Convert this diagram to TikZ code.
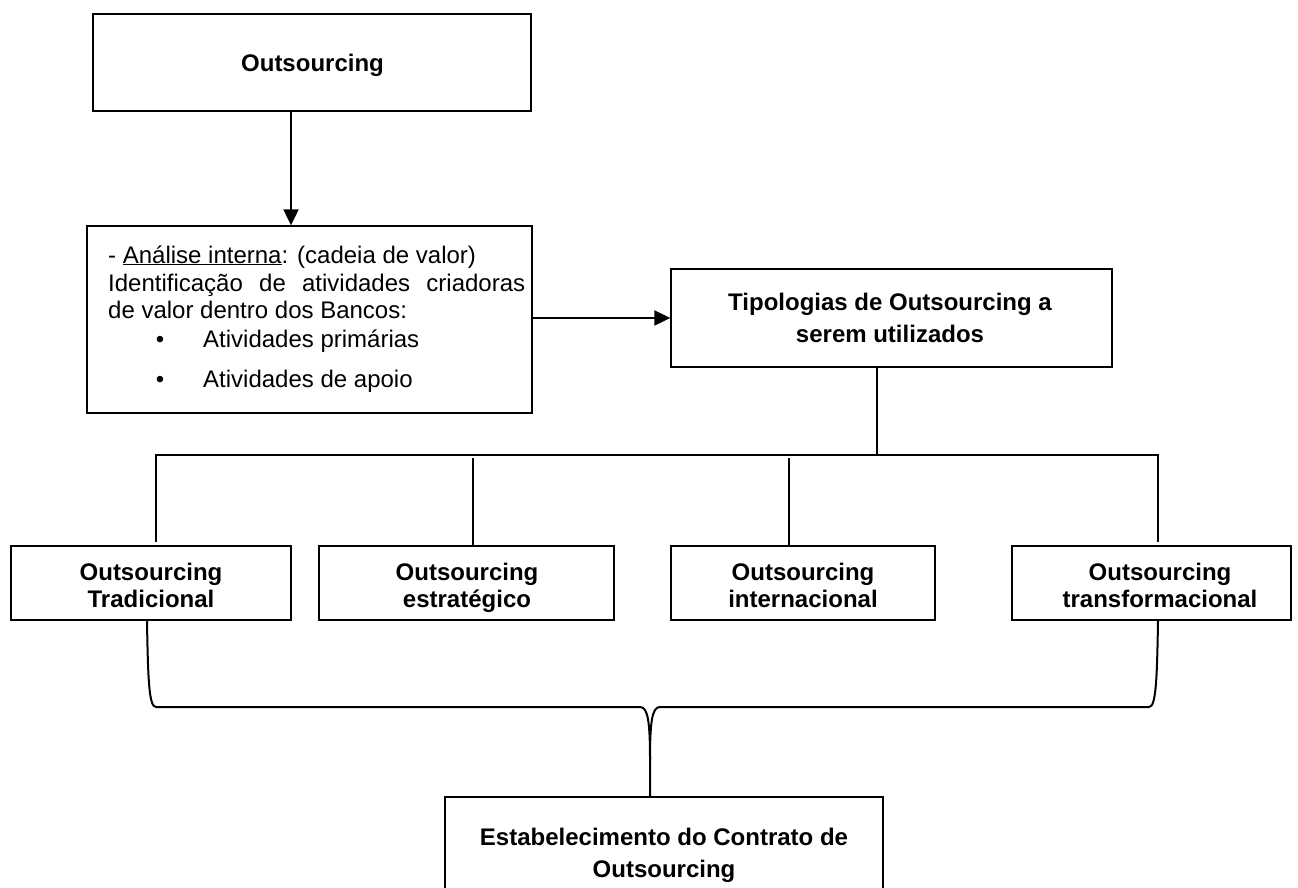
\documentclass[tikz,border=0pt]{standalone}
\usepackage{fontspec}
\setmainfont{Liberation Sans}
\usetikzlibrary{arrows.meta}
\begin{document}
\begin{tikzpicture}[x=1pt,y=-1pt,
  box/.style={draw=black,line width=1.3pt,inner sep=0pt,fill=white},
  txt/.style={inner sep=0pt,anchor=base west,font=\fontsize{24}{27.5}\selectfont},
  btxt/.style={inner sep=0pt,anchor=base,align=center,font=\bfseries\fontsize{24}{#1}\selectfont},
  btxt/.default=30,
  conn/.style={line width=2pt},
  arr/.style={line width=2pt,-{Triangle[length=16pt,width=15pt]}}]
\useasboundingbox (0,0) rectangle (1298,888);
\clip (0,0) rectangle (1298,888);
\fill[white] (0,0) rectangle (1298,888);
% boxes
\node[box,minimum width=438pt,minimum height=97pt] (top) at (312,62.5) {};
\node[box,minimum width=445pt,minimum height=187pt] (ana) at (309.5,319.5) {};
\node[box,minimum width=441pt,minimum height=98pt] (tipo) at (891.5,318) {};
\node[box,minimum width=280pt,minimum height=74pt] (b1) at (151,583) {};
\node[box,minimum width=295pt,minimum height=74pt] (b2) at (466.5,583) {};
\node[box,minimum width=264pt,minimum height=74pt] (b3) at (803,583) {};
\node[box,minimum width=279pt,minimum height=74pt] (b4) at (1151.5,583) {};
\node[box,minimum width=438pt,minimum height=108pt] (fin) at (664,851) {};
% texts (base anchor = baseline of the last line)
\node[btxt] (toptxt) at (312.5,72) {Outsourcing};
\node[txt] (a1) at (108,263) {- \underline{Análise interna}: (cadeia de valor)};
\node[txt] (a2) at (108,291) {\makebox[417pt][s]{Identificação de atividades criadoras}};
\node[txt] (a3) at (108,318) {de valor dentro dos Bancos:};
\node[txt,anchor=base] (bul1) at (160,347) {•};
\node[txt] (a4) at (203,347) {Atividades primárias};
\node[txt,anchor=base] (bul2) at (160,387) {•};
\node[txt] (a5) at (203,387) {Atividades de apoio};
\node[btxt=32] (tipotxt) at (890,342) {Tipologias de Outsourcing a\\serem utilizados};
\node[btxt=27] (b1txt) at (151,607) {Outsourcing\\Tradicional};
\node[btxt=27] (b2txt) at (467,607) {Outsourcing\\estratégico};
\node[btxt=27] (b3txt) at (803,607) {Outsourcing\\internacional};
\node[btxt=27] (b4txt) at (1160,607) {Outsourcing\\transformacional};
\node[btxt=32] (fintxt) at (664,877) {Estabelecimento do Contrato de\\Outsourcing};
% connectors
\draw[arr] ([xshift=-21pt]top.south) -- ([xshift=-21pt]top.south |- ana.north);
\draw[arr] (ana.east |- tipo.west) -- (tipo.west);
\coordinate (busL) at (156,455);
\coordinate (busR) at (1158,455);
\coordinate (busM) at (877,455);
\coordinate (t2) at (473,458);
\coordinate (t3) at (789,458);
\draw[conn] ([xshift=-14.5pt]tipo.south) -- (busM);
\draw[conn] ([xshift=-1pt]busL) -- ([xshift=1pt]busR);
\draw[conn] (busL) -- ([yshift=3pt]busL |- b1.north);
\draw[conn] (t2) -- (t2 |- b2.north);
\draw[conn] (t3) -- (t3 |- b3.north);
\draw[conn] (busR) -- ([yshift=3pt]busR |- b4.north);
% brace
\coordinate (braceL) at (147,621);
\coordinate (braceR) at (1158,621);
\coordinate (cusp) at (650,760);
\draw[conn] (braceL) .. controls (148,680) and (149,707) .. (156,707) -- (640,707)
  .. controls (648,707) and (650,722) .. (cusp) -- (cusp |- fin.north);
\draw[conn] (braceR) .. controls (1157,680) and (1156,707) .. (1149,707) -- (660,707)
  .. controls (652,707) and (650,722) .. (cusp);
\end{tikzpicture}
\end{document}
